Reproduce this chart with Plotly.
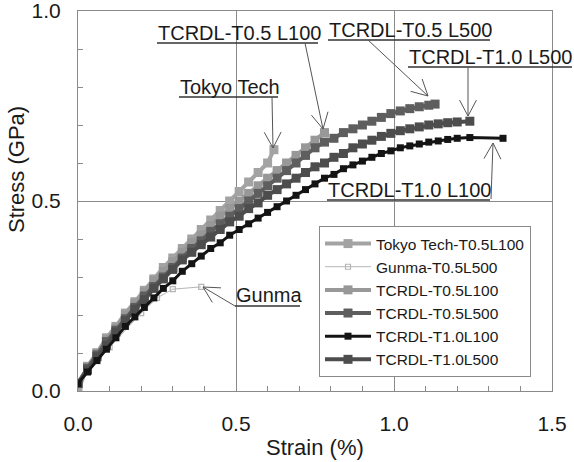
import math
import plotly.graph_objects as go

# ---------------- data ----------------
tokyo_x = [0.00, 0.03, 0.06, 0.09, 0.12, 0.15, 0.18, 0.21, 0.24, 0.27, 0.30, 0.33, 0.36, 0.39,
           0.42, 0.45, 0.48, 0.51, 0.54, 0.57, 0.60, 0.62]
tokyo_y = [0.00, 0.065, 0.10, 0.14, 0.17, 0.205, 0.235, 0.265, 0.295, 0.325, 0.35, 0.375, 0.40, 0.425,
           0.45, 0.475, 0.50, 0.525, 0.55, 0.575, 0.60, 0.635]

gunma_x = [0.00, 0.10, 0.20, 0.25, 0.30, 0.39]
gunma_y = [0.02, 0.115, 0.205, 0.245, 0.268, 0.274]

t05l100_x = [0.00, 0.03, 0.06, 0.09, 0.12, 0.15, 0.18, 0.21, 0.24, 0.27, 0.30, 0.33, 0.36, 0.39,
             0.42, 0.45, 0.48, 0.51, 0.54, 0.57, 0.60, 0.63, 0.66, 0.69, 0.72, 0.75, 0.78]
t05l100_y = [0.02, 0.06, 0.10, 0.135, 0.165, 0.20, 0.23, 0.26, 0.29, 0.315, 0.34, 0.365, 0.39, 0.41,
             0.435, 0.46, 0.48, 0.50, 0.52, 0.54, 0.56, 0.58, 0.60, 0.62, 0.64, 0.66, 0.68]

t05l500_x = [0.00, 0.03, 0.06, 0.09, 0.12, 0.15, 0.18, 0.21, 0.24, 0.27, 0.30, 0.33, 0.36, 0.39,
             0.42, 0.45, 0.48, 0.51, 0.54, 0.57, 0.60, 0.63, 0.66, 0.69, 0.72, 0.75, 0.78, 0.81,
             0.84, 0.87, 0.90, 0.93, 0.96, 0.99, 1.02, 1.05, 1.08, 1.11, 1.13]
t05l500_y = [0.02, 0.06, 0.095, 0.13, 0.16, 0.19, 0.22, 0.25, 0.275, 0.30, 0.325, 0.35, 0.375, 0.395,
             0.42, 0.44, 0.46, 0.48, 0.50, 0.52, 0.54, 0.56, 0.58, 0.60, 0.62, 0.64, 0.655, 0.665,
             0.68, 0.69, 0.70, 0.71, 0.72, 0.73, 0.737, 0.743, 0.748, 0.752, 0.755]

t10l100_x = [0.00, 0.03, 0.06, 0.09, 0.12, 0.15, 0.18, 0.21, 0.24, 0.27, 0.30, 0.33, 0.36, 0.39,
             0.42, 0.45, 0.48, 0.51, 0.54, 0.57, 0.60, 0.63, 0.66, 0.69, 0.72, 0.75, 0.78, 0.81,
             0.84, 0.87, 0.90, 0.93, 0.96, 0.99, 1.02, 1.05, 1.08, 1.11, 1.14, 1.17, 1.20, 1.24, 1.345]
t10l100_y = [0.02, 0.05, 0.08, 0.11, 0.14, 0.17, 0.195, 0.22, 0.245, 0.27, 0.29, 0.315, 0.335, 0.355,
             0.375, 0.39, 0.41, 0.425, 0.44, 0.455, 0.47, 0.485, 0.50, 0.515, 0.53, 0.545, 0.56, 0.57,
             0.585, 0.595, 0.605, 0.615, 0.625, 0.632, 0.64, 0.645, 0.65, 0.655, 0.658, 0.662, 0.665,
             0.667, 0.665]

t10l500_x = [0.00, 0.03, 0.06, 0.09, 0.12, 0.15, 0.18, 0.21, 0.24, 0.27, 0.30, 0.33, 0.36, 0.39,
             0.42, 0.45, 0.48, 0.51, 0.54, 0.57, 0.60, 0.63, 0.66, 0.69, 0.72, 0.75, 0.78, 0.81,
             0.84, 0.87, 0.90, 0.93, 0.96, 0.99, 1.02, 1.05, 1.08, 1.11, 1.14, 1.17, 1.20, 1.24]
t10l500_y = [0.02, 0.055, 0.09, 0.12, 0.155, 0.185, 0.215, 0.24, 0.27, 0.295, 0.32, 0.345, 0.365, 0.385,
             0.405, 0.425, 0.445, 0.46, 0.48, 0.495, 0.515, 0.53, 0.545, 0.56, 0.575, 0.59, 0.60, 0.615,
             0.625, 0.64, 0.65, 0.66, 0.67, 0.678, 0.685, 0.69, 0.695, 0.70, 0.703, 0.706, 0.708, 0.71]

x_ticks = [0.0, 0.5, 1.0, 1.5]
x_ticklabels = ["0.0", "0.5", "1.0", "1.5"]
y_ticks = [0.0, 0.5, 1.0]
y_ticklabels = ["0.0", "0.5", "1.0"]

FONT = "Liberation Sans, Arial, Helvetica, sans-serif"

# ---------------- layout geometry (pixels) ----------------
W, H = 574, 462
L, R, T, B = 78, 552, 11, 391


def px(p):
    return (p - L) / (R - L)


def py(p):
    return (B - p) / (B - T)


fig = go.Figure()

series = [
    # name, x, y, color, marker symbol, size, line width, legend rank
    ("Gunma-T0.5L500", gunma_x, gunma_y, "#b5b5b5", "square-open", 5, 1, 2),
    ("Tokyo Tech-T0.5L100", tokyo_x, tokyo_y, "#a3a3a3", "square", 9, 4, 1),
    ("TCRDL-T0.5L100", t05l100_x, t05l100_y, "#989898", "square", 9, 4, 3),
    ("TCRDL-T0.5L500", t05l500_x, t05l500_y, "#5e5e5e", "square", 9, 4, 4),
    ("TCRDL-T1.0L500", t10l500_x, t10l500_y, "#4d4d4d", "square", 9, 4, 6),
    ("TCRDL-T1.0L100", t10l100_x, t10l100_y, "#141414", "square", 7, 3, 5),
]

for name, xs, ys, col, sym, sz, lw, rank in series:
    fig.add_trace(go.Scatter(
        x=xs, y=ys, name=name, mode="lines+markers",
        line=dict(color=col, width=lw),
        marker=dict(symbol=sym, size=sz, color=col,
                    line=dict(width=1.2 if sym.endswith("open") else 0, color=col)),
        legendrank=rank,
    ))

# ---------------- annotations ----------------
ann_font = dict(family=FONT, size=20, color="#1a1a1a")
labels = [
    # text, x0, x1 (pixel extent), text center y, underline y
    ("TCRDL-T0.5 L100", 157, 318, 33, 43),
    ("Tokyo Tech", 179, 278, 87, 97),
    ("TCRDL-T0.5 L500", 328, 490, 30, 40),
    ("TCRDL-T1.0 L500", 408, 572, 57, 67),
    ("TCRDL-T1.0 L100", 327, 490, 190, 200),
    ("Gunma", 235, 300, 295, 306),
]
arrows = [
    (305, 43, 323, 129),
    (272, 97, 273, 148),
    (368, 40, 428, 96),
    (468, 67, 468, 116),
    (491, 199, 493, 143),
    (235, 306, 203, 287),
]

shapes = []
annotations = []
for text, x0, x1, yc, yu in labels:
    annotations.append(dict(
        text=text, x=px(x0 - 1), y=py(yc), xref="paper", yref="paper",
        xanchor="left", yanchor="middle", showarrow=False, font=ann_font,
    ))
    shapes.append(dict(type="line", xref="paper", yref="paper",
                       x0=px(x0), x1=px(x1), y0=py(yu), y1=py(yu),
                       line=dict(color="#333333", width=1.5)))

for x0, y0, x1, y1 in arrows:
    shapes.append(dict(type="line", xref="paper", yref="paper",
                       x0=px(x0), y0=py(y0), x1=px(x1), y1=py(y1),
                       line=dict(color="#555555", width=1)))
    dx, dy = x0 - x1, y0 - y1
    n = math.hypot(dx, dy)
    dx, dy = dx / n, dy / n
    for ang in (28, -28):
        a = math.radians(ang)
        rx = dx * math.cos(a) - dy * math.sin(a)
        ry = dx * math.sin(a) + dy * math.cos(a)
        shapes.append(dict(type="line", xref="paper", yref="paper",
                           x0=px(x1), y0=py(y1), x1=px(x1 + 18 * rx), y1=py(y1 + 18 * ry),
                           line=dict(color="#555555", width=1)))

annotations.append(dict(text="Stress (GPa)", x=px(17), y=py(169), xref="paper", yref="paper",
                        textangle=-90, showarrow=False, font=dict(family=FONT, size=22, color="#1a1a1a"),
                        xanchor="center", yanchor="middle"))
annotations.append(dict(text="Strain (%)", x=px(315), y=py(447), xref="paper", yref="paper",
                        showarrow=False, font=dict(family=FONT, size=22, color="#1a1a1a"),
                        xanchor="center", yanchor="middle"))

axis_common = dict(
    showline=True, linecolor="#8a8a8a", linewidth=1, mirror=True,
    showgrid=True, gridcolor="#8a8a8a", gridwidth=1, zeroline=False,
    ticks="inside", ticklen=5, tickcolor="#8a8a8a", automargin=False,
    ticklabeloverflow="allow",
    minor=dict(dtick=0.1, ticks="inside", ticklen=5, tickcolor="#8a8a8a", showgrid=False),
)

fig.update_layout(
    width=W, height=H,
    margin=dict(l=L, r=W - R, t=T, b=H - B, pad=0, autoexpand=False),
    paper_bgcolor="white", plot_bgcolor="white",
    font=dict(family=FONT, color="#1a1a1a"),
    xaxis=dict(range=[0, 1.5], tickvals=x_ticks, ticktext=x_ticklabels,
               tickfont=dict(size=21, family=FONT, color="#1a1a1a"), ticklabelstandoff=14,
               **axis_common),
    yaxis=dict(range=[0, 1.0], tickvals=y_ticks, ticktext=y_ticklabels,
               tickfont=dict(size=21, family=FONT, color="#1a1a1a"), ticklabelstandoff=12,
               **axis_common),
    legend=dict(x=px(319), y=py(226), xanchor="left", yanchor="top",
                bgcolor="white", bordercolor="#8a8a8a", borderwidth=1, itemwidth=46,
                font=dict(family=FONT, size=15.5, color="#1a1a1a"), traceorder="normal"),
    shapes=shapes, annotations=annotations,
    showlegend=True,
)

fig.write_html("out.html")
